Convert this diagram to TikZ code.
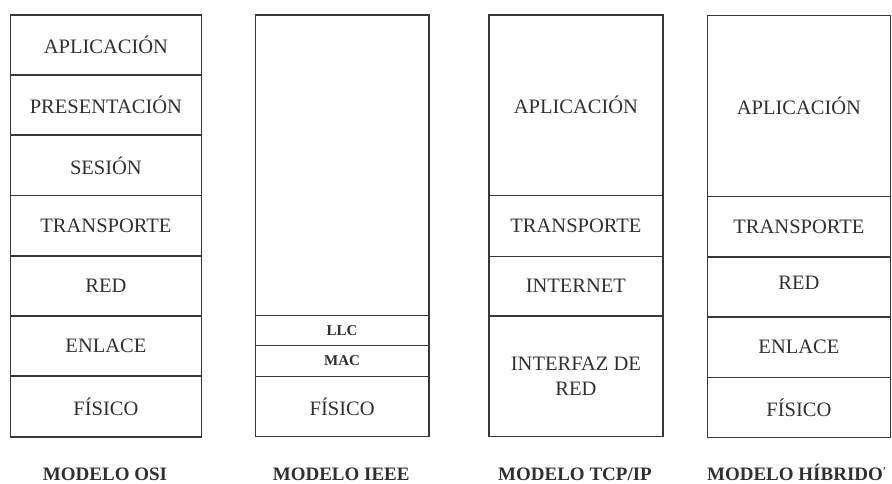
\documentclass[tikz,border=0pt]{standalone}
\usepackage{fontspec}
\setmainfont{Liberation Serif}
\definecolor{ink}{HTML}{303030}
\definecolor{rule}{HTML}{383838}
\begin{document}
\begin{tikzpicture}[x=1pt,y=-1pt,
  layer/.style={draw=rule, line width=1.8pt, rectangle, inner sep=0pt,
    anchor=north west, text=ink, align=center,
    font=\fontsize{20.5}{25}\selectfont},
  small/.style={layer, font=\fontsize{15}{18}\selectfont\bfseries},
  caption/.style={anchor=base, text=ink, inner sep=0pt, text depth=0pt,
    font=\fontsize{19}{22}\selectfont\bfseries}]
\useasboundingbox (0,0) rectangle (892,483);

% OSI model: seven equal layers
\node[layer, minimum width=191pt, minimum height=60.2pt] (osi1) at (9.5,14)    {APLICACIÓN};
\node[layer, minimum width=191pt, minimum height=60.2pt] (osi2) at (9.5,74.2)  {PRESENTACIÓN};
\node[layer, minimum width=191pt, minimum height=60.2pt] (osi3) at (9.5,134.4) {SESIÓN};
\node[layer, minimum width=191pt, minimum height=60.2pt] (osi4) at (9.5,194.6) {TRANSPORTE};
\node[layer, minimum width=191pt, minimum height=60.2pt] (osi5) at (9.5,254.8) {RED};
\node[layer, minimum width=191pt, minimum height=60.2pt] (osi6) at (9.5,315)   {ENLACE};
\node[layer, minimum width=191pt, minimum height=60.5pt] (osi7) at (9.5,375.2) {FÍSICO};

% IEEE model
\node[layer, minimum width=173.5pt, minimum height=300.5pt] (ieee0) at (254.5,14) {};
\node[small, minimum width=173.5pt, minimum height=30pt]   (ieee1) at (254.5,314.5) {LLC};
\node[small, minimum width=173.5pt, minimum height=31pt]   (ieee2) at (254.5,344.5) {MAC};
\node[layer, minimum width=173.5pt, minimum height=60pt]   (ieee3) at (254.5,375.5) {FÍSICO};

% TCP/IP model
\node[layer, minimum width=174pt, minimum height=180.5pt] (tcp1) at (488,14)    {APLICACIÓN};
\node[layer, minimum width=174pt, minimum height=61pt]    (tcp2) at (488,194.5) {TRANSPORTE};
\node[layer, minimum width=174pt, minimum height=59.5pt]  (tcp3) at (488,255.5) {INTERNET};
\node[layer, minimum width=174pt, minimum height=120.5pt] (tcp4) at (488,315)   {INTERFAZ DE\\RED};

% Hybrid model
\node[layer, minimum width=183pt, minimum height=181pt] (hyb1) at (706.5,14.5)  {APLICACIÓN};
\node[layer, minimum width=183pt, minimum height=60.5pt] (hyb2) at (706.5,195.5) {TRANSPORTE};
\node[layer, minimum width=183pt, minimum height=60pt]   (hyb3) at (706.5,256)   {\raisebox{9pt}{RED}};
\node[layer, minimum width=183pt, minimum height=60.5pt] (hyb4) at (706.5,316)   {ENLACE};
\node[layer, minimum width=183pt, minimum height=60pt]   (hyb5) at (706.5,376.5) {FÍSICO};

% Captions
\node[caption] (cosi)  at (105,480)   {MODELO OSI};
\node[caption] (cieee) at (341.2,480) {MODELO IEEE};
\node[caption] (ctcp)  at (575,480)   {MODELO TCP/IP};
\node[caption] (chyb)  at (795,480)   {MODELO HÍBRIDO\rlap{\textsuperscript{\fontsize{9}{9}\selectfont '}}};
\end{tikzpicture}
\end{document}
